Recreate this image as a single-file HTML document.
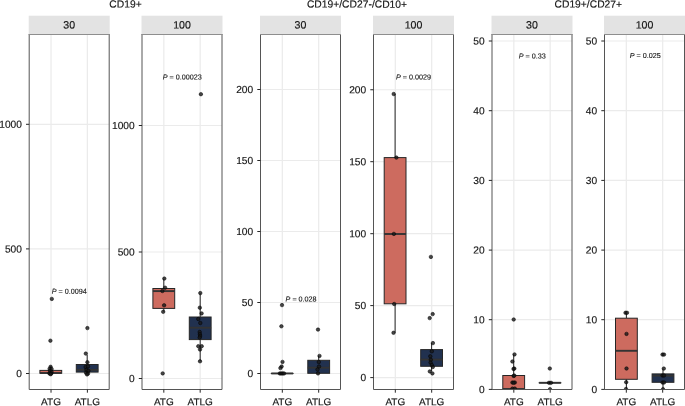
<!DOCTYPE html><html><head><meta charset="utf-8"><style>html,body{margin:0;padding:0;background:#fff;}body{width:685px;height:406px;overflow:hidden;}svg{display:block;will-change:transform;}text{font-family:"Liberation Sans", sans-serif;text-rendering:geometricPrecision;}</style></head><body>
<svg width="685" height="406" viewBox="0 0 685 406">
<rect x="0" y="0" width="685" height="406" fill="#ffffff"/>
<text x="125.50" y="7.60" font-size="10.30" text-anchor="middle" fill="#141414" transform="rotate(0.05 125.50 7.60)" stroke="#141414" stroke-width="0.15">CD19+</text>
<text x="357.00" y="7.60" font-size="10.30" text-anchor="middle" fill="#141414" transform="rotate(0.05 357.00 7.60)" stroke="#141414" stroke-width="0.15">CD19+/CD27-/CD10+</text>
<text x="588.30" y="7.60" font-size="10.30" text-anchor="middle" fill="#141414" transform="rotate(0.05 588.30 7.60)" stroke="#141414" stroke-width="0.15">CD19+/CD27+</text>
<rect x="28.70" y="15.70" width="81.00" height="18.80" fill="#E3E3E3"/>
<text x="69.20" y="28.60" font-size="10.60" text-anchor="middle" fill="#141414" transform="rotate(0.05 69.20 28.60)" stroke="#141414" stroke-width="0.15">30</text>
<rect x="29.20" y="34.50" width="80.00" height="355.00" fill="#fff"/>
<line x1="29.20" y1="373.50" x2="109.20" y2="373.50" stroke="#EBEBEB" stroke-width="1.2"/>
<line x1="29.20" y1="248.90" x2="109.20" y2="248.90" stroke="#EBEBEB" stroke-width="1.2"/>
<line x1="29.20" y1="124.30" x2="109.20" y2="124.30" stroke="#EBEBEB" stroke-width="1.2"/>
<line x1="51.02" y1="34.50" x2="51.02" y2="389.50" stroke="#EBEBEB" stroke-width="1.25"/>
<line x1="87.38" y1="34.50" x2="87.38" y2="389.50" stroke="#EBEBEB" stroke-width="1.25"/>
<rect x="141.50" y="15.70" width="81.00" height="18.80" fill="#E3E3E3"/>
<text x="182.00" y="28.60" font-size="10.60" text-anchor="middle" fill="#141414" transform="rotate(0.05 182.00 28.60)" stroke="#141414" stroke-width="0.15">100</text>
<rect x="142.00" y="34.50" width="80.00" height="355.00" fill="#fff"/>
<line x1="142.00" y1="378.50" x2="222.00" y2="378.50" stroke="#EBEBEB" stroke-width="1.2"/>
<line x1="142.00" y1="252.00" x2="222.00" y2="252.00" stroke="#EBEBEB" stroke-width="1.2"/>
<line x1="142.00" y1="125.50" x2="222.00" y2="125.50" stroke="#EBEBEB" stroke-width="1.2"/>
<line x1="163.82" y1="34.50" x2="163.82" y2="389.50" stroke="#EBEBEB" stroke-width="1.25"/>
<line x1="200.18" y1="34.50" x2="200.18" y2="389.50" stroke="#EBEBEB" stroke-width="1.25"/>
<rect x="260.00" y="15.70" width="81.00" height="18.80" fill="#E3E3E3"/>
<text x="300.50" y="28.60" font-size="10.60" text-anchor="middle" fill="#141414" transform="rotate(0.05 300.50 28.60)" stroke="#141414" stroke-width="0.15">30</text>
<rect x="260.50" y="34.50" width="80.00" height="355.00" fill="#fff"/>
<line x1="260.50" y1="373.50" x2="340.50" y2="373.50" stroke="#EBEBEB" stroke-width="1.2"/>
<line x1="260.50" y1="302.50" x2="340.50" y2="302.50" stroke="#EBEBEB" stroke-width="1.2"/>
<line x1="260.50" y1="231.50" x2="340.50" y2="231.50" stroke="#EBEBEB" stroke-width="1.2"/>
<line x1="260.50" y1="160.50" x2="340.50" y2="160.50" stroke="#EBEBEB" stroke-width="1.2"/>
<line x1="260.50" y1="89.50" x2="340.50" y2="89.50" stroke="#EBEBEB" stroke-width="1.2"/>
<line x1="282.32" y1="34.50" x2="282.32" y2="389.50" stroke="#EBEBEB" stroke-width="1.25"/>
<line x1="318.68" y1="34.50" x2="318.68" y2="389.50" stroke="#EBEBEB" stroke-width="1.25"/>
<rect x="373.00" y="15.70" width="81.00" height="18.80" fill="#E3E3E3"/>
<text x="413.50" y="28.60" font-size="10.60" text-anchor="middle" fill="#141414" transform="rotate(0.05 413.50 28.60)" stroke="#141414" stroke-width="0.15">100</text>
<rect x="373.50" y="34.50" width="80.00" height="355.00" fill="#fff"/>
<line x1="373.50" y1="377.60" x2="453.50" y2="377.60" stroke="#EBEBEB" stroke-width="1.2"/>
<line x1="373.50" y1="305.60" x2="453.50" y2="305.60" stroke="#EBEBEB" stroke-width="1.2"/>
<line x1="373.50" y1="233.70" x2="453.50" y2="233.70" stroke="#EBEBEB" stroke-width="1.2"/>
<line x1="373.50" y1="161.70" x2="453.50" y2="161.70" stroke="#EBEBEB" stroke-width="1.2"/>
<line x1="373.50" y1="89.75" x2="453.50" y2="89.75" stroke="#EBEBEB" stroke-width="1.2"/>
<line x1="395.32" y1="34.50" x2="395.32" y2="389.50" stroke="#EBEBEB" stroke-width="1.25"/>
<line x1="431.68" y1="34.50" x2="431.68" y2="389.50" stroke="#EBEBEB" stroke-width="1.25"/>
<rect x="491.50" y="15.70" width="81.00" height="18.80" fill="#E3E3E3"/>
<text x="532.00" y="28.60" font-size="10.60" text-anchor="middle" fill="#141414" transform="rotate(0.05 532.00 28.60)" stroke="#141414" stroke-width="0.15">30</text>
<rect x="492.00" y="34.50" width="80.00" height="355.00" fill="#fff"/>
<line x1="492.00" y1="319.70" x2="572.00" y2="319.70" stroke="#EBEBEB" stroke-width="1.2"/>
<line x1="492.00" y1="250.10" x2="572.00" y2="250.10" stroke="#EBEBEB" stroke-width="1.2"/>
<line x1="492.00" y1="180.40" x2="572.00" y2="180.40" stroke="#EBEBEB" stroke-width="1.2"/>
<line x1="492.00" y1="110.70" x2="572.00" y2="110.70" stroke="#EBEBEB" stroke-width="1.2"/>
<line x1="492.00" y1="41.00" x2="572.00" y2="41.00" stroke="#EBEBEB" stroke-width="1.2"/>
<line x1="513.82" y1="34.50" x2="513.82" y2="389.50" stroke="#EBEBEB" stroke-width="1.25"/>
<line x1="550.18" y1="34.50" x2="550.18" y2="389.50" stroke="#EBEBEB" stroke-width="1.25"/>
<rect x="604.00" y="15.70" width="81.00" height="18.80" fill="#E3E3E3"/>
<text x="644.50" y="28.60" font-size="10.60" text-anchor="middle" fill="#141414" transform="rotate(0.05 644.50 28.60)" stroke="#141414" stroke-width="0.15">100</text>
<rect x="604.50" y="34.50" width="80.00" height="355.00" fill="#fff"/>
<line x1="604.50" y1="319.70" x2="684.50" y2="319.70" stroke="#EBEBEB" stroke-width="1.2"/>
<line x1="604.50" y1="250.10" x2="684.50" y2="250.10" stroke="#EBEBEB" stroke-width="1.2"/>
<line x1="604.50" y1="180.40" x2="684.50" y2="180.40" stroke="#EBEBEB" stroke-width="1.2"/>
<line x1="604.50" y1="110.70" x2="684.50" y2="110.70" stroke="#EBEBEB" stroke-width="1.2"/>
<line x1="604.50" y1="41.00" x2="684.50" y2="41.00" stroke="#EBEBEB" stroke-width="1.2"/>
<line x1="626.32" y1="34.50" x2="626.32" y2="389.50" stroke="#EBEBEB" stroke-width="1.25"/>
<line x1="662.68" y1="34.50" x2="662.68" y2="389.50" stroke="#EBEBEB" stroke-width="1.25"/>
<line x1="50.80" y1="366.00" x2="50.80" y2="370.40" stroke="#262626" stroke-width="1.0"/>
<rect x="39.90" y="370.40" width="21.80" height="2.80" fill="#CD6B5F" stroke="#262626" stroke-width="1.0"/>
<line x1="39.90" y1="373.00" x2="61.70" y2="373.00" stroke="#333333" stroke-width="1.9"/>
<line x1="87.20" y1="355.00" x2="87.20" y2="364.50" stroke="#262626" stroke-width="1.0"/>
<line x1="87.20" y1="372.10" x2="87.20" y2="373.50" stroke="#262626" stroke-width="1.0"/>
<rect x="76.30" y="364.50" width="21.80" height="7.60" fill="#21314F" stroke="#262626" stroke-width="1.0"/>
<line x1="76.30" y1="369.90" x2="98.10" y2="369.90" stroke="#333333" stroke-width="1.9"/>
<line x1="163.80" y1="278.60" x2="163.80" y2="288.50" stroke="#262626" stroke-width="1.0"/>
<line x1="163.80" y1="308.40" x2="163.80" y2="311.80" stroke="#262626" stroke-width="1.0"/>
<rect x="152.90" y="288.50" width="21.80" height="19.90" fill="#CD6B5F" stroke="#262626" stroke-width="1.0"/>
<line x1="152.90" y1="291.10" x2="174.70" y2="291.10" stroke="#333333" stroke-width="1.9"/>
<line x1="200.20" y1="293.20" x2="200.20" y2="317.00" stroke="#262626" stroke-width="1.0"/>
<line x1="200.20" y1="339.60" x2="200.20" y2="361.20" stroke="#262626" stroke-width="1.0"/>
<rect x="189.30" y="317.00" width="21.80" height="22.60" fill="#21314F" stroke="#262626" stroke-width="1.0"/>
<line x1="189.30" y1="327.70" x2="211.10" y2="327.70" stroke="#333333" stroke-width="1.9"/>
<rect x="271.30" y="373.45" width="21.80" height="0.01" fill="#CD6B5F" stroke="#262626" stroke-width="1.0"/>
<line x1="271.30" y1="373.45" x2="293.10" y2="373.45" stroke="#333333" stroke-width="1.9"/>
<line x1="318.70" y1="355.90" x2="318.70" y2="360.30" stroke="#262626" stroke-width="1.0"/>
<rect x="307.80" y="360.30" width="21.80" height="13.00" fill="#21314F" stroke="#262626" stroke-width="1.0"/>
<line x1="307.80" y1="367.70" x2="329.60" y2="367.70" stroke="#333333" stroke-width="1.9"/>
<line x1="395.10" y1="94.00" x2="395.10" y2="157.60" stroke="#262626" stroke-width="1.0"/>
<line x1="395.10" y1="303.80" x2="395.10" y2="332.80" stroke="#262626" stroke-width="1.0"/>
<rect x="384.20" y="157.60" width="21.80" height="146.20" fill="#CD6B5F" stroke="#262626" stroke-width="1.0"/>
<line x1="384.20" y1="234.00" x2="406.00" y2="234.00" stroke="#333333" stroke-width="1.9"/>
<line x1="431.60" y1="343.00" x2="431.60" y2="349.60" stroke="#262626" stroke-width="1.0"/>
<line x1="431.60" y1="366.30" x2="431.60" y2="371.00" stroke="#262626" stroke-width="1.0"/>
<rect x="420.70" y="349.60" width="21.80" height="16.70" fill="#21314F" stroke="#262626" stroke-width="1.0"/>
<line x1="420.70" y1="359.60" x2="442.50" y2="359.60" stroke="#333333" stroke-width="1.9"/>
<line x1="513.70" y1="354.40" x2="513.70" y2="375.50" stroke="#262626" stroke-width="1.0"/>
<rect x="502.80" y="375.50" width="21.80" height="13.50" fill="#CD6B5F" stroke="#262626" stroke-width="1.0"/>
<line x1="502.80" y1="389.00" x2="524.60" y2="389.00" stroke="#333333" stroke-width="1.9"/>
<rect x="539.10" y="382.80" width="21.80" height="0.01" fill="#21314F" stroke="#262626" stroke-width="1.0"/>
<line x1="539.10" y1="382.80" x2="560.90" y2="382.80" stroke="#333333" stroke-width="1.9"/>
<line x1="626.40" y1="312.80" x2="626.40" y2="318.20" stroke="#262626" stroke-width="1.0"/>
<line x1="626.40" y1="379.30" x2="626.40" y2="389.40" stroke="#262626" stroke-width="1.0"/>
<rect x="615.50" y="318.20" width="21.80" height="61.10" fill="#CD6B5F" stroke="#262626" stroke-width="1.0"/>
<line x1="615.50" y1="350.80" x2="637.30" y2="350.80" stroke="#333333" stroke-width="1.9"/>
<line x1="663.00" y1="368.60" x2="663.00" y2="373.90" stroke="#262626" stroke-width="1.0"/>
<line x1="663.00" y1="382.30" x2="663.00" y2="389.40" stroke="#262626" stroke-width="1.0"/>
<rect x="652.10" y="373.90" width="21.80" height="8.40" fill="#21314F" stroke="#262626" stroke-width="1.0"/>
<line x1="652.10" y1="375.70" x2="673.90" y2="375.70" stroke="#333333" stroke-width="1.9"/>
<defs>
<clipPath id="c0"><rect x="29.20" y="34.50" width="80.00" height="355.00"/></clipPath>
<clipPath id="c1"><rect x="142.00" y="34.50" width="80.00" height="355.00"/></clipPath>
<clipPath id="c2"><rect x="260.50" y="34.50" width="80.00" height="355.00"/></clipPath>
<clipPath id="c3"><rect x="373.50" y="34.50" width="80.00" height="355.00"/></clipPath>
<clipPath id="c4"><rect x="492.00" y="34.50" width="80.00" height="355.00"/></clipPath>
<clipPath id="c5"><rect x="604.50" y="34.50" width="80.00" height="355.00"/></clipPath>
</defs>
<g clip-path="url(#c0)">
<circle cx="51.80" cy="298.90" r="1.75" fill="rgba(25,25,25,0.8)" stroke="rgba(0,0,0,0.85)" stroke-width="0.60"/>
<circle cx="50.40" cy="340.70" r="1.75" fill="rgba(25,25,25,0.8)" stroke="rgba(0,0,0,0.85)" stroke-width="0.60"/>
<circle cx="50.60" cy="366.80" r="1.75" fill="rgba(25,25,25,0.8)" stroke="rgba(0,0,0,0.85)" stroke-width="0.60"/>
<circle cx="49.60" cy="368.80" r="1.75" fill="rgba(25,25,25,0.8)" stroke="rgba(0,0,0,0.85)" stroke-width="0.60"/>
<circle cx="51.60" cy="369.00" r="1.75" fill="rgba(25,25,25,0.8)" stroke="rgba(0,0,0,0.85)" stroke-width="0.60"/>
<circle cx="50.00" cy="371.00" r="1.75" fill="rgba(25,25,25,0.8)" stroke="rgba(0,0,0,0.85)" stroke-width="0.60"/>
<circle cx="51.60" cy="372.00" r="1.75" fill="rgba(25,25,25,0.8)" stroke="rgba(0,0,0,0.85)" stroke-width="0.60"/>
<circle cx="49.40" cy="373.40" r="1.75" fill="rgba(25,25,25,0.8)" stroke="rgba(0,0,0,0.85)" stroke-width="0.60"/>
<circle cx="51.20" cy="373.60" r="1.75" fill="rgba(25,25,25,0.8)" stroke="rgba(0,0,0,0.85)" stroke-width="0.60"/>
<circle cx="50.60" cy="374.20" r="1.75" fill="rgba(25,25,25,0.8)" stroke="rgba(0,0,0,0.85)" stroke-width="0.60"/>
<circle cx="87.40" cy="328.10" r="1.75" fill="rgba(25,25,25,0.8)" stroke="rgba(0,0,0,0.85)" stroke-width="0.60"/>
<circle cx="85.80" cy="353.60" r="1.75" fill="rgba(25,25,25,0.8)" stroke="rgba(0,0,0,0.85)" stroke-width="0.60"/>
<circle cx="87.40" cy="362.20" r="1.75" fill="rgba(25,25,25,0.8)" stroke="rgba(0,0,0,0.85)" stroke-width="0.60"/>
<circle cx="85.60" cy="367.00" r="1.75" fill="rgba(25,25,25,0.8)" stroke="rgba(0,0,0,0.85)" stroke-width="0.60"/>
<circle cx="88.00" cy="366.40" r="1.75" fill="rgba(25,25,25,0.8)" stroke="rgba(0,0,0,0.85)" stroke-width="0.60"/>
<circle cx="86.40" cy="369.80" r="1.75" fill="rgba(25,25,25,0.8)" stroke="rgba(0,0,0,0.85)" stroke-width="0.60"/>
<circle cx="88.40" cy="370.80" r="1.75" fill="rgba(25,25,25,0.8)" stroke="rgba(0,0,0,0.85)" stroke-width="0.60"/>
<circle cx="86.00" cy="372.80" r="1.75" fill="rgba(25,25,25,0.8)" stroke="rgba(0,0,0,0.85)" stroke-width="0.60"/>
<circle cx="88.00" cy="373.60" r="1.75" fill="rgba(25,25,25,0.8)" stroke="rgba(0,0,0,0.85)" stroke-width="0.60"/>
<circle cx="87.00" cy="374.40" r="1.75" fill="rgba(25,25,25,0.8)" stroke="rgba(0,0,0,0.85)" stroke-width="0.60"/>
</g>
<g clip-path="url(#c1)">
<circle cx="164.30" cy="278.60" r="1.75" fill="rgba(25,25,25,0.8)" stroke="rgba(0,0,0,0.85)" stroke-width="0.60"/>
<circle cx="162.40" cy="291.00" r="1.75" fill="rgba(25,25,25,0.8)" stroke="rgba(0,0,0,0.85)" stroke-width="0.60"/>
<circle cx="165.10" cy="287.70" r="1.75" fill="rgba(25,25,25,0.8)" stroke="rgba(0,0,0,0.85)" stroke-width="0.60"/>
<circle cx="164.10" cy="305.30" r="1.75" fill="rgba(25,25,25,0.8)" stroke="rgba(0,0,0,0.85)" stroke-width="0.60"/>
<circle cx="163.20" cy="311.80" r="1.75" fill="rgba(25,25,25,0.8)" stroke="rgba(0,0,0,0.85)" stroke-width="0.60"/>
<circle cx="162.70" cy="373.40" r="1.75" fill="rgba(25,25,25,0.8)" stroke="rgba(0,0,0,0.85)" stroke-width="0.60"/>
<circle cx="200.90" cy="94.20" r="1.75" fill="rgba(25,25,25,0.8)" stroke="rgba(0,0,0,0.85)" stroke-width="0.60"/>
<circle cx="200.30" cy="293.10" r="1.75" fill="rgba(25,25,25,0.8)" stroke="rgba(0,0,0,0.85)" stroke-width="0.60"/>
<circle cx="199.80" cy="307.70" r="1.75" fill="rgba(25,25,25,0.8)" stroke="rgba(0,0,0,0.85)" stroke-width="0.60"/>
<circle cx="201.60" cy="313.40" r="1.75" fill="rgba(25,25,25,0.8)" stroke="rgba(0,0,0,0.85)" stroke-width="0.60"/>
<circle cx="198.30" cy="319.00" r="1.75" fill="rgba(25,25,25,0.8)" stroke="rgba(0,0,0,0.85)" stroke-width="0.60"/>
<circle cx="200.30" cy="323.00" r="1.75" fill="rgba(25,25,25,0.8)" stroke="rgba(0,0,0,0.85)" stroke-width="0.60"/>
<circle cx="199.70" cy="332.00" r="1.75" fill="rgba(25,25,25,0.8)" stroke="rgba(0,0,0,0.85)" stroke-width="0.60"/>
<circle cx="199.90" cy="334.20" r="1.75" fill="rgba(25,25,25,0.8)" stroke="rgba(0,0,0,0.85)" stroke-width="0.60"/>
<circle cx="200.10" cy="336.00" r="1.75" fill="rgba(25,25,25,0.8)" stroke="rgba(0,0,0,0.85)" stroke-width="0.60"/>
<circle cx="199.70" cy="337.60" r="1.75" fill="rgba(25,25,25,0.8)" stroke="rgba(0,0,0,0.85)" stroke-width="0.60"/>
<circle cx="198.30" cy="346.20" r="1.75" fill="rgba(25,25,25,0.8)" stroke="rgba(0,0,0,0.85)" stroke-width="0.60"/>
<circle cx="201.70" cy="346.20" r="1.75" fill="rgba(25,25,25,0.8)" stroke="rgba(0,0,0,0.85)" stroke-width="0.60"/>
<circle cx="200.00" cy="349.50" r="1.75" fill="rgba(25,25,25,0.8)" stroke="rgba(0,0,0,0.85)" stroke-width="0.60"/>
<circle cx="200.00" cy="361.30" r="1.75" fill="rgba(25,25,25,0.8)" stroke="rgba(0,0,0,0.85)" stroke-width="0.60"/>
</g>
<g clip-path="url(#c2)">
<circle cx="282.00" cy="305.10" r="1.75" fill="rgba(25,25,25,0.8)" stroke="rgba(0,0,0,0.85)" stroke-width="0.60"/>
<circle cx="281.40" cy="326.30" r="1.75" fill="rgba(25,25,25,0.8)" stroke="rgba(0,0,0,0.85)" stroke-width="0.60"/>
<circle cx="282.50" cy="361.90" r="1.75" fill="rgba(25,25,25,0.8)" stroke="rgba(0,0,0,0.85)" stroke-width="0.60"/>
<circle cx="281.60" cy="366.50" r="1.75" fill="rgba(25,25,25,0.8)" stroke="rgba(0,0,0,0.85)" stroke-width="0.60"/>
<circle cx="280.40" cy="368.10" r="1.75" fill="rgba(25,25,25,0.8)" stroke="rgba(0,0,0,0.85)" stroke-width="0.60"/>
<circle cx="279.80" cy="373.45" r="1.75" fill="rgba(25,25,25,0.8)" stroke="rgba(0,0,0,0.85)" stroke-width="0.60"/>
<circle cx="281.20" cy="373.45" r="1.75" fill="rgba(25,25,25,0.8)" stroke="rgba(0,0,0,0.85)" stroke-width="0.60"/>
<circle cx="282.60" cy="373.45" r="1.75" fill="rgba(25,25,25,0.8)" stroke="rgba(0,0,0,0.85)" stroke-width="0.60"/>
<circle cx="284.00" cy="373.45" r="1.75" fill="rgba(25,25,25,0.8)" stroke="rgba(0,0,0,0.85)" stroke-width="0.60"/>
<circle cx="318.00" cy="329.60" r="1.75" fill="rgba(25,25,25,0.8)" stroke="rgba(0,0,0,0.85)" stroke-width="0.60"/>
<circle cx="319.50" cy="355.90" r="1.75" fill="rgba(25,25,25,0.8)" stroke="rgba(0,0,0,0.85)" stroke-width="0.60"/>
<circle cx="318.80" cy="362.00" r="1.75" fill="rgba(25,25,25,0.8)" stroke="rgba(0,0,0,0.85)" stroke-width="0.60"/>
<circle cx="319.00" cy="366.50" r="1.75" fill="rgba(25,25,25,0.8)" stroke="rgba(0,0,0,0.85)" stroke-width="0.60"/>
<circle cx="317.50" cy="369.50" r="1.75" fill="rgba(25,25,25,0.8)" stroke="rgba(0,0,0,0.85)" stroke-width="0.60"/>
<circle cx="318.00" cy="373.40" r="1.75" fill="rgba(25,25,25,0.8)" stroke="rgba(0,0,0,0.85)" stroke-width="0.60"/>
</g>
<g clip-path="url(#c3)">
<circle cx="393.70" cy="94.00" r="1.75" fill="rgba(25,25,25,0.8)" stroke="rgba(0,0,0,0.85)" stroke-width="0.60"/>
<circle cx="396.40" cy="157.60" r="1.75" fill="rgba(25,25,25,0.8)" stroke="rgba(0,0,0,0.85)" stroke-width="0.60"/>
<circle cx="393.90" cy="233.90" r="1.75" fill="rgba(25,25,25,0.8)" stroke="rgba(0,0,0,0.85)" stroke-width="0.60"/>
<circle cx="394.20" cy="304.00" r="1.75" fill="rgba(25,25,25,0.8)" stroke="rgba(0,0,0,0.85)" stroke-width="0.60"/>
<circle cx="393.50" cy="332.80" r="1.75" fill="rgba(25,25,25,0.8)" stroke="rgba(0,0,0,0.85)" stroke-width="0.60"/>
<circle cx="430.90" cy="256.90" r="1.75" fill="rgba(25,25,25,0.8)" stroke="rgba(0,0,0,0.85)" stroke-width="0.60"/>
<circle cx="432.70" cy="314.10" r="1.75" fill="rgba(25,25,25,0.8)" stroke="rgba(0,0,0,0.85)" stroke-width="0.60"/>
<circle cx="429.70" cy="318.10" r="1.75" fill="rgba(25,25,25,0.8)" stroke="rgba(0,0,0,0.85)" stroke-width="0.60"/>
<circle cx="432.90" cy="343.10" r="1.75" fill="rgba(25,25,25,0.8)" stroke="rgba(0,0,0,0.85)" stroke-width="0.60"/>
<circle cx="431.80" cy="351.30" r="1.75" fill="rgba(25,25,25,0.8)" stroke="rgba(0,0,0,0.85)" stroke-width="0.60"/>
<circle cx="430.30" cy="356.30" r="1.75" fill="rgba(25,25,25,0.8)" stroke="rgba(0,0,0,0.85)" stroke-width="0.60"/>
<circle cx="430.80" cy="359.80" r="1.75" fill="rgba(25,25,25,0.8)" stroke="rgba(0,0,0,0.85)" stroke-width="0.60"/>
<circle cx="430.60" cy="362.60" r="1.75" fill="rgba(25,25,25,0.8)" stroke="rgba(0,0,0,0.85)" stroke-width="0.60"/>
<circle cx="431.80" cy="365.00" r="1.75" fill="rgba(25,25,25,0.8)" stroke="rgba(0,0,0,0.85)" stroke-width="0.60"/>
<circle cx="432.80" cy="367.00" r="1.75" fill="rgba(25,25,25,0.8)" stroke="rgba(0,0,0,0.85)" stroke-width="0.60"/>
<circle cx="429.80" cy="371.40" r="1.75" fill="rgba(25,25,25,0.8)" stroke="rgba(0,0,0,0.85)" stroke-width="0.60"/>
<circle cx="432.40" cy="373.40" r="1.75" fill="rgba(25,25,25,0.8)" stroke="rgba(0,0,0,0.85)" stroke-width="0.60"/>
</g>
<g clip-path="url(#c4)">
<circle cx="513.70" cy="319.50" r="1.75" fill="rgba(25,25,25,0.8)" stroke="rgba(0,0,0,0.85)" stroke-width="0.60"/>
<circle cx="514.50" cy="354.40" r="1.75" fill="rgba(25,25,25,0.8)" stroke="rgba(0,0,0,0.85)" stroke-width="0.60"/>
<circle cx="512.40" cy="361.50" r="1.75" fill="rgba(25,25,25,0.8)" stroke="rgba(0,0,0,0.85)" stroke-width="0.60"/>
<circle cx="514.30" cy="368.60" r="1.75" fill="rgba(25,25,25,0.8)" stroke="rgba(0,0,0,0.85)" stroke-width="0.60"/>
<circle cx="513.50" cy="368.90" r="1.75" fill="rgba(25,25,25,0.8)" stroke="rgba(0,0,0,0.85)" stroke-width="0.60"/>
<circle cx="513.60" cy="375.90" r="1.75" fill="rgba(25,25,25,0.8)" stroke="rgba(0,0,0,0.85)" stroke-width="0.60"/>
<circle cx="514.30" cy="375.60" r="1.75" fill="rgba(25,25,25,0.8)" stroke="rgba(0,0,0,0.85)" stroke-width="0.60"/>
<circle cx="512.40" cy="382.50" r="1.75" fill="rgba(25,25,25,0.8)" stroke="rgba(0,0,0,0.85)" stroke-width="0.60"/>
<circle cx="514.80" cy="382.50" r="1.75" fill="rgba(25,25,25,0.8)" stroke="rgba(0,0,0,0.85)" stroke-width="0.60"/>
<circle cx="513.60" cy="382.80" r="1.75" fill="rgba(25,25,25,0.8)" stroke="rgba(0,0,0,0.85)" stroke-width="0.60"/>
<circle cx="512.40" cy="388.60" r="1.75" fill="rgba(25,25,25,0.8)" stroke="rgba(0,0,0,0.85)" stroke-width="0.60"/>
<circle cx="514.80" cy="388.60" r="1.75" fill="rgba(25,25,25,0.8)" stroke="rgba(0,0,0,0.85)" stroke-width="0.60"/>
<circle cx="549.80" cy="368.50" r="1.75" fill="rgba(25,25,25,0.8)" stroke="rgba(0,0,0,0.85)" stroke-width="0.60"/>
<circle cx="549.00" cy="382.80" r="1.75" fill="rgba(25,25,25,0.8)" stroke="rgba(0,0,0,0.85)" stroke-width="0.60"/>
<circle cx="551.00" cy="382.80" r="1.75" fill="rgba(25,25,25,0.8)" stroke="rgba(0,0,0,0.85)" stroke-width="0.60"/>
<circle cx="550.00" cy="389.20" r="1.75" fill="rgba(25,25,25,0.8)" stroke="rgba(0,0,0,0.85)" stroke-width="0.60"/>
</g>
<g clip-path="url(#c5)">
<circle cx="625.50" cy="312.80" r="1.75" fill="rgba(25,25,25,0.8)" stroke="rgba(0,0,0,0.85)" stroke-width="0.60"/>
<circle cx="627.00" cy="312.80" r="1.75" fill="rgba(25,25,25,0.8)" stroke="rgba(0,0,0,0.85)" stroke-width="0.60"/>
<circle cx="626.50" cy="333.90" r="1.75" fill="rgba(25,25,25,0.8)" stroke="rgba(0,0,0,0.85)" stroke-width="0.60"/>
<circle cx="626.50" cy="368.50" r="1.75" fill="rgba(25,25,25,0.8)" stroke="rgba(0,0,0,0.85)" stroke-width="0.60"/>
<circle cx="626.20" cy="382.20" r="1.75" fill="rgba(25,25,25,0.8)" stroke="rgba(0,0,0,0.85)" stroke-width="0.60"/>
<circle cx="626.00" cy="389.00" r="1.75" fill="rgba(25,25,25,0.8)" stroke="rgba(0,0,0,0.85)" stroke-width="0.60"/>
<circle cx="662.50" cy="354.60" r="1.75" fill="rgba(25,25,25,0.8)" stroke="rgba(0,0,0,0.85)" stroke-width="0.60"/>
<circle cx="664.00" cy="354.60" r="1.75" fill="rgba(25,25,25,0.8)" stroke="rgba(0,0,0,0.85)" stroke-width="0.60"/>
<circle cx="663.80" cy="368.60" r="1.75" fill="rgba(25,25,25,0.8)" stroke="rgba(0,0,0,0.85)" stroke-width="0.60"/>
<circle cx="662.50" cy="375.50" r="1.75" fill="rgba(25,25,25,0.8)" stroke="rgba(0,0,0,0.85)" stroke-width="0.60"/>
<circle cx="664.00" cy="375.50" r="1.75" fill="rgba(25,25,25,0.8)" stroke="rgba(0,0,0,0.85)" stroke-width="0.60"/>
<circle cx="662.50" cy="382.50" r="1.75" fill="rgba(25,25,25,0.8)" stroke="rgba(0,0,0,0.85)" stroke-width="0.60"/>
<circle cx="664.00" cy="382.50" r="1.75" fill="rgba(25,25,25,0.8)" stroke="rgba(0,0,0,0.85)" stroke-width="0.60"/>
<circle cx="663.00" cy="389.20" r="1.75" fill="rgba(25,25,25,0.8)" stroke="rgba(0,0,0,0.85)" stroke-width="0.60"/>
</g>
<text x="69.30" y="293.80" font-size="7.20" text-anchor="middle" fill="#141414" transform="rotate(0.05 69.30 293.80)" stroke="#141414" stroke-width="0.12"><tspan font-style="italic">P</tspan> = 0.0094</text>
<text x="182.30" y="79.60" font-size="7.20" text-anchor="middle" fill="#141414" transform="rotate(0.05 182.30 79.60)" stroke="#141414" stroke-width="0.12"><tspan font-style="italic">P</tspan> = 0.00023</text>
<text x="301.10" y="301.60" font-size="7.20" text-anchor="middle" fill="#141414" transform="rotate(0.05 301.10 301.60)" stroke="#141414" stroke-width="0.12"><tspan font-style="italic">P</tspan> = 0.028</text>
<text x="413.55" y="79.60" font-size="7.20" text-anchor="middle" fill="#141414" transform="rotate(0.05 413.55 79.60)" stroke="#141414" stroke-width="0.12"><tspan font-style="italic">P</tspan> = 0.0029</text>
<text x="532.30" y="58.50" font-size="7.20" text-anchor="middle" fill="#141414" transform="rotate(0.05 532.30 58.50)" stroke="#141414" stroke-width="0.12"><tspan font-style="italic">P</tspan> = 0.33</text>
<text x="645.30" y="58.10" font-size="7.20" text-anchor="middle" fill="#141414" transform="rotate(0.05 645.30 58.10)" stroke="#141414" stroke-width="0.12"><tspan font-style="italic">P</tspan> = 0.025</text>
<path d="M29.20 34.00 V389.50 H109.20 V34.00" fill="none" stroke="#555555" stroke-width="1"/>
<line x1="28.70" y1="34.50" x2="109.70" y2="34.50" stroke="#8e8e8e" stroke-width="1"/>
<line x1="26.00" y1="373.50" x2="29.20" y2="373.50" stroke="#262626" stroke-width="1"/>
<text x="21.90" y="377.00" font-size="10.20" text-anchor="end" fill="#141414" transform="rotate(0.05 21.90 377.00)" stroke="#141414" stroke-width="0.15">0</text>
<line x1="26.00" y1="248.90" x2="29.20" y2="248.90" stroke="#262626" stroke-width="1"/>
<text x="21.90" y="252.40" font-size="10.20" text-anchor="end" fill="#141414" transform="rotate(0.05 21.90 252.40)" stroke="#141414" stroke-width="0.15">500</text>
<line x1="26.00" y1="124.30" x2="29.20" y2="124.30" stroke="#262626" stroke-width="1"/>
<text x="21.90" y="127.80" font-size="10.20" text-anchor="end" fill="#141414" transform="rotate(0.05 21.90 127.80)" stroke="#141414" stroke-width="0.15">1000</text>
<line x1="51.02" y1="389.50" x2="51.02" y2="392.70" stroke="#262626" stroke-width="1"/>
<text x="51.02" y="405.20" font-size="10.00" text-anchor="middle" fill="#141414" transform="rotate(0.05 51.02 405.20)" stroke="#141414" stroke-width="0.15">ATG</text>
<line x1="87.38" y1="389.50" x2="87.38" y2="392.70" stroke="#262626" stroke-width="1"/>
<text x="87.38" y="405.20" font-size="10.00" text-anchor="middle" fill="#141414" transform="rotate(0.05 87.38 405.20)" stroke="#141414" stroke-width="0.15">ATLG</text>
<path d="M142.00 34.00 V389.50 H222.00 V34.00" fill="none" stroke="#555555" stroke-width="1"/>
<line x1="141.50" y1="34.50" x2="222.50" y2="34.50" stroke="#8e8e8e" stroke-width="1"/>
<line x1="138.80" y1="378.50" x2="142.00" y2="378.50" stroke="#262626" stroke-width="1"/>
<text x="134.70" y="382.00" font-size="10.20" text-anchor="end" fill="#141414" transform="rotate(0.05 134.70 382.00)" stroke="#141414" stroke-width="0.15">0</text>
<line x1="138.80" y1="252.00" x2="142.00" y2="252.00" stroke="#262626" stroke-width="1"/>
<text x="134.70" y="255.50" font-size="10.20" text-anchor="end" fill="#141414" transform="rotate(0.05 134.70 255.50)" stroke="#141414" stroke-width="0.15">500</text>
<line x1="138.80" y1="125.50" x2="142.00" y2="125.50" stroke="#262626" stroke-width="1"/>
<text x="134.70" y="129.00" font-size="10.20" text-anchor="end" fill="#141414" transform="rotate(0.05 134.70 129.00)" stroke="#141414" stroke-width="0.15">1000</text>
<line x1="163.82" y1="389.50" x2="163.82" y2="392.70" stroke="#262626" stroke-width="1"/>
<text x="163.82" y="405.20" font-size="10.00" text-anchor="middle" fill="#141414" transform="rotate(0.05 163.82 405.20)" stroke="#141414" stroke-width="0.15">ATG</text>
<line x1="200.18" y1="389.50" x2="200.18" y2="392.70" stroke="#262626" stroke-width="1"/>
<text x="200.18" y="405.20" font-size="10.00" text-anchor="middle" fill="#141414" transform="rotate(0.05 200.18 405.20)" stroke="#141414" stroke-width="0.15">ATLG</text>
<path d="M260.50 34.00 V389.50 H340.50 V34.00" fill="none" stroke="#555555" stroke-width="1"/>
<line x1="260.00" y1="34.50" x2="341.00" y2="34.50" stroke="#8e8e8e" stroke-width="1"/>
<line x1="257.30" y1="373.50" x2="260.50" y2="373.50" stroke="#262626" stroke-width="1"/>
<text x="253.20" y="377.00" font-size="10.20" text-anchor="end" fill="#141414" transform="rotate(0.05 253.20 377.00)" stroke="#141414" stroke-width="0.15">0</text>
<line x1="257.30" y1="302.50" x2="260.50" y2="302.50" stroke="#262626" stroke-width="1"/>
<text x="253.20" y="306.00" font-size="10.20" text-anchor="end" fill="#141414" transform="rotate(0.05 253.20 306.00)" stroke="#141414" stroke-width="0.15">50</text>
<line x1="257.30" y1="231.50" x2="260.50" y2="231.50" stroke="#262626" stroke-width="1"/>
<text x="253.20" y="235.00" font-size="10.20" text-anchor="end" fill="#141414" transform="rotate(0.05 253.20 235.00)" stroke="#141414" stroke-width="0.15">100</text>
<line x1="257.30" y1="160.50" x2="260.50" y2="160.50" stroke="#262626" stroke-width="1"/>
<text x="253.20" y="164.00" font-size="10.20" text-anchor="end" fill="#141414" transform="rotate(0.05 253.20 164.00)" stroke="#141414" stroke-width="0.15">150</text>
<line x1="257.30" y1="89.50" x2="260.50" y2="89.50" stroke="#262626" stroke-width="1"/>
<text x="253.20" y="93.00" font-size="10.20" text-anchor="end" fill="#141414" transform="rotate(0.05 253.20 93.00)" stroke="#141414" stroke-width="0.15">200</text>
<line x1="282.32" y1="389.50" x2="282.32" y2="392.70" stroke="#262626" stroke-width="1"/>
<text x="282.32" y="405.20" font-size="10.00" text-anchor="middle" fill="#141414" transform="rotate(0.05 282.32 405.20)" stroke="#141414" stroke-width="0.15">ATG</text>
<line x1="318.68" y1="389.50" x2="318.68" y2="392.70" stroke="#262626" stroke-width="1"/>
<text x="318.68" y="405.20" font-size="10.00" text-anchor="middle" fill="#141414" transform="rotate(0.05 318.68 405.20)" stroke="#141414" stroke-width="0.15">ATLG</text>
<path d="M373.50 34.00 V389.50 H453.50 V34.00" fill="none" stroke="#555555" stroke-width="1"/>
<line x1="373.00" y1="34.50" x2="454.00" y2="34.50" stroke="#8e8e8e" stroke-width="1"/>
<line x1="370.30" y1="377.60" x2="373.50" y2="377.60" stroke="#262626" stroke-width="1"/>
<text x="366.20" y="381.10" font-size="10.20" text-anchor="end" fill="#141414" transform="rotate(0.05 366.20 381.10)" stroke="#141414" stroke-width="0.15">0</text>
<line x1="370.30" y1="305.60" x2="373.50" y2="305.60" stroke="#262626" stroke-width="1"/>
<text x="366.20" y="309.10" font-size="10.20" text-anchor="end" fill="#141414" transform="rotate(0.05 366.20 309.10)" stroke="#141414" stroke-width="0.15">50</text>
<line x1="370.30" y1="233.70" x2="373.50" y2="233.70" stroke="#262626" stroke-width="1"/>
<text x="366.20" y="237.20" font-size="10.20" text-anchor="end" fill="#141414" transform="rotate(0.05 366.20 237.20)" stroke="#141414" stroke-width="0.15">100</text>
<line x1="370.30" y1="161.70" x2="373.50" y2="161.70" stroke="#262626" stroke-width="1"/>
<text x="366.20" y="165.20" font-size="10.20" text-anchor="end" fill="#141414" transform="rotate(0.05 366.20 165.20)" stroke="#141414" stroke-width="0.15">150</text>
<line x1="370.30" y1="89.75" x2="373.50" y2="89.75" stroke="#262626" stroke-width="1"/>
<text x="366.20" y="93.25" font-size="10.20" text-anchor="end" fill="#141414" transform="rotate(0.05 366.20 93.25)" stroke="#141414" stroke-width="0.15">200</text>
<line x1="395.32" y1="389.50" x2="395.32" y2="392.70" stroke="#262626" stroke-width="1"/>
<text x="395.32" y="405.20" font-size="10.00" text-anchor="middle" fill="#141414" transform="rotate(0.05 395.32 405.20)" stroke="#141414" stroke-width="0.15">ATG</text>
<line x1="431.68" y1="389.50" x2="431.68" y2="392.70" stroke="#262626" stroke-width="1"/>
<text x="431.68" y="405.20" font-size="10.00" text-anchor="middle" fill="#141414" transform="rotate(0.05 431.68 405.20)" stroke="#141414" stroke-width="0.15">ATLG</text>
<path d="M492.00 34.00 V389.50 H572.00 V34.00" fill="none" stroke="#555555" stroke-width="1"/>
<line x1="491.50" y1="34.50" x2="572.50" y2="34.50" stroke="#8e8e8e" stroke-width="1"/>
<line x1="488.80" y1="389.40" x2="492.00" y2="389.40" stroke="#262626" stroke-width="1"/>
<text x="484.70" y="392.90" font-size="10.20" text-anchor="end" fill="#141414" transform="rotate(0.05 484.70 392.90)" stroke="#141414" stroke-width="0.15">0</text>
<line x1="488.80" y1="319.70" x2="492.00" y2="319.70" stroke="#262626" stroke-width="1"/>
<text x="484.70" y="323.20" font-size="10.20" text-anchor="end" fill="#141414" transform="rotate(0.05 484.70 323.20)" stroke="#141414" stroke-width="0.15">10</text>
<line x1="488.80" y1="250.10" x2="492.00" y2="250.10" stroke="#262626" stroke-width="1"/>
<text x="484.70" y="253.60" font-size="10.20" text-anchor="end" fill="#141414" transform="rotate(0.05 484.70 253.60)" stroke="#141414" stroke-width="0.15">20</text>
<line x1="488.80" y1="180.40" x2="492.00" y2="180.40" stroke="#262626" stroke-width="1"/>
<text x="484.70" y="183.90" font-size="10.20" text-anchor="end" fill="#141414" transform="rotate(0.05 484.70 183.90)" stroke="#141414" stroke-width="0.15">30</text>
<line x1="488.80" y1="110.70" x2="492.00" y2="110.70" stroke="#262626" stroke-width="1"/>
<text x="484.70" y="114.20" font-size="10.20" text-anchor="end" fill="#141414" transform="rotate(0.05 484.70 114.20)" stroke="#141414" stroke-width="0.15">40</text>
<line x1="488.80" y1="41.00" x2="492.00" y2="41.00" stroke="#262626" stroke-width="1"/>
<text x="484.70" y="44.50" font-size="10.20" text-anchor="end" fill="#141414" transform="rotate(0.05 484.70 44.50)" stroke="#141414" stroke-width="0.15">50</text>
<line x1="513.82" y1="389.50" x2="513.82" y2="392.70" stroke="#262626" stroke-width="1"/>
<text x="513.82" y="405.20" font-size="10.00" text-anchor="middle" fill="#141414" transform="rotate(0.05 513.82 405.20)" stroke="#141414" stroke-width="0.15">ATG</text>
<line x1="550.18" y1="389.50" x2="550.18" y2="392.70" stroke="#262626" stroke-width="1"/>
<text x="550.18" y="405.20" font-size="10.00" text-anchor="middle" fill="#141414" transform="rotate(0.05 550.18 405.20)" stroke="#141414" stroke-width="0.15">ATLG</text>
<path d="M604.50 34.00 V389.50 H684.50 V34.00" fill="none" stroke="#555555" stroke-width="1"/>
<line x1="604.00" y1="34.50" x2="685.00" y2="34.50" stroke="#8e8e8e" stroke-width="1"/>
<line x1="601.30" y1="389.40" x2="604.50" y2="389.40" stroke="#262626" stroke-width="1"/>
<text x="597.20" y="392.90" font-size="10.20" text-anchor="end" fill="#141414" transform="rotate(0.05 597.20 392.90)" stroke="#141414" stroke-width="0.15">0</text>
<line x1="601.30" y1="319.70" x2="604.50" y2="319.70" stroke="#262626" stroke-width="1"/>
<text x="597.20" y="323.20" font-size="10.20" text-anchor="end" fill="#141414" transform="rotate(0.05 597.20 323.20)" stroke="#141414" stroke-width="0.15">10</text>
<line x1="601.30" y1="250.10" x2="604.50" y2="250.10" stroke="#262626" stroke-width="1"/>
<text x="597.20" y="253.60" font-size="10.20" text-anchor="end" fill="#141414" transform="rotate(0.05 597.20 253.60)" stroke="#141414" stroke-width="0.15">20</text>
<line x1="601.30" y1="180.40" x2="604.50" y2="180.40" stroke="#262626" stroke-width="1"/>
<text x="597.20" y="183.90" font-size="10.20" text-anchor="end" fill="#141414" transform="rotate(0.05 597.20 183.90)" stroke="#141414" stroke-width="0.15">30</text>
<line x1="601.30" y1="110.70" x2="604.50" y2="110.70" stroke="#262626" stroke-width="1"/>
<text x="597.20" y="114.20" font-size="10.20" text-anchor="end" fill="#141414" transform="rotate(0.05 597.20 114.20)" stroke="#141414" stroke-width="0.15">40</text>
<line x1="601.30" y1="41.00" x2="604.50" y2="41.00" stroke="#262626" stroke-width="1"/>
<text x="597.20" y="44.50" font-size="10.20" text-anchor="end" fill="#141414" transform="rotate(0.05 597.20 44.50)" stroke="#141414" stroke-width="0.15">50</text>
<line x1="626.32" y1="389.50" x2="626.32" y2="392.70" stroke="#262626" stroke-width="1"/>
<text x="626.32" y="405.20" font-size="10.00" text-anchor="middle" fill="#141414" transform="rotate(0.05 626.32 405.20)" stroke="#141414" stroke-width="0.15">ATG</text>
<line x1="662.68" y1="389.50" x2="662.68" y2="392.70" stroke="#262626" stroke-width="1"/>
<text x="662.68" y="405.20" font-size="10.00" text-anchor="middle" fill="#141414" transform="rotate(0.05 662.68 405.20)" stroke="#141414" stroke-width="0.15">ATLG</text>
</svg></body></html>
